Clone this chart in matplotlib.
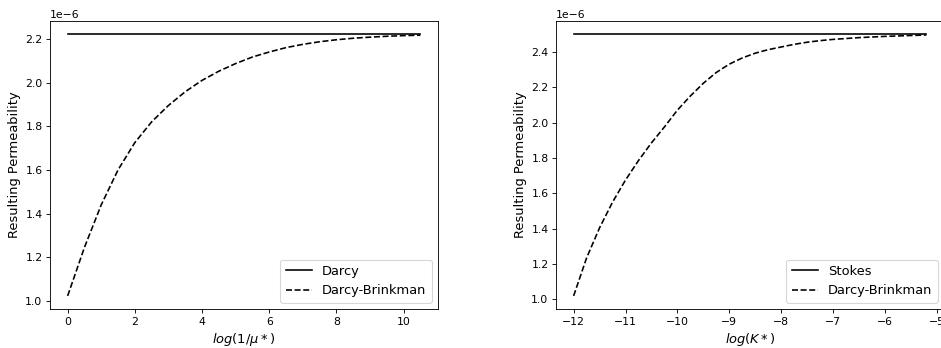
import numpy as np
import matplotlib
matplotlib.use("Agg")
import matplotlib.pyplot as plt

# left panel: effect of viscosity ratio
log_inv_mu = [0, 0.5, 1, 1.5, 2, 2.5, 3, 3.5, 4, 4.5, 5, 5.5, 6, 6.5, 7, 7.5, 8, 8.5, 9, 9.5, 10, 10.5]
brinkman_mu = [1.023, 1.245, 1.44, 1.60, 1.725, 1.82, 1.895, 1.958, 2.01, 2.052, 2.087,
               2.117, 2.14, 2.16, 2.175, 2.187, 2.196, 2.203, 2.208, 2.212, 2.215, 2.217]
darcy_k = 2.222

# right panel: effect of permeability
log_k = [-12.0, -11.75, -11.5, -11.25, -11.0, -10.75, -10.5, -10.25, -10.0, -9.75, -9.5, -9.25,
         -9.0, -8.75, -8.5, -8.25, -8.0, -7.75, -7.5, -7.25, -7.0, -6.5, -6.0, -5.5, -5.2]
brinkman_k = [1.02, 1.235, 1.405, 1.55, 1.675, 1.785, 1.885, 1.975, 2.07, 2.15, 2.222, 2.283,
              2.33, 2.365, 2.392, 2.412, 2.427, 2.442, 2.454, 2.463, 2.47, 2.48, 2.487, 2.492, 2.495]
stokes_k = 2.5

scale = 1e-6

dpi = 78
fig = plt.figure(figsize=(941/dpi, 348/dpi), dpi=dpi)
ax1 = fig.add_axes([50/941, 39/348, 388/941, 288/348])
ax2 = fig.add_axes([556/941, 39/348, 388/941, 288/348])

x1 = np.array(log_inv_mu)
ax1.plot(x1, np.full(len(x1), darcy_k*scale), 'k-', label='Darcy')
ax1.plot(x1, np.array(brinkman_mu)*scale, 'k--', label='Darcy-Brinkman')
ax1.set_xlabel(r'$log(1/\mu*)$', fontsize=12)
ax1.set_ylabel('Resulting Permeability', fontsize=12)
ax1.legend(loc='lower right', fontsize=12)

x2 = np.array(log_k)
ax2.plot(x2, np.full(len(x2), stokes_k*scale), 'k-', label='Stokes')
ax2.plot(x2, np.array(brinkman_k)*scale, 'k--', label='Darcy-Brinkman')
ax2.set_xlabel(r'$log(K*)$', fontsize=12)
ax2.set_ylabel('Resulting Permeability', fontsize=12)
ax2.legend(loc='lower right', fontsize=12)

fig.savefig('out.png', dpi=dpi)
